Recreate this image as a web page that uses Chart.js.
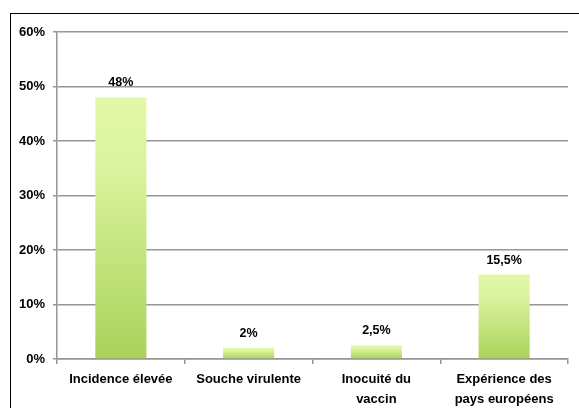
<!DOCTYPE html>
<html>
<head>
<meta charset="utf-8">
<script src="https://cdn.jsdelivr.net/npm/chart.js@4/dist/chart.umd.min.js"></script>
<style>
  html, body { margin: 0; padding: 0; background: #fff; }
  #wrap { position: relative; width: 579px; height: 408px; overflow: hidden; }
  #frame { position: absolute; left: 10px; top: 13px; width: 700px; height: 500px;
           border-left: 1px solid #000; border-top: 1px solid #000; pointer-events: none; }
  canvas { position: absolute; left: 0; top: 0; }
</style>
</head>
<body>
<div id="wrap">
  <canvas id="c" width="579" height="408"></canvas>
  <div id="frame"></div>
</div>
<script>
const categories = [
  "Incidence élevée",
  "Souche virulente",
  ["Inocuité du", "vaccin"],
  ["Expérience des", "pays européens"]
];
const values = [48, 2, 2.5, 15.5];
const yTicks = [0, 10, 20, 30, 40, 50, 60];

const FONT = "'Liberation Sans', Arial, sans-serif";

function barGradient(ctx) {
  const chart = ctx.chart;
  const y = chart.scales && chart.scales.y;
  if (!y || ctx.raw === undefined) return '#c4e47f';
  const top = y.getPixelForValue(ctx.raw);
  const bottom = y.getPixelForValue(0);
  if (!isFinite(top) || !isFinite(bottom) || top === bottom) return '#c4e47f';
  const g = chart.ctx.createLinearGradient(0, top, 0, bottom);
  g.addColorStop(0, '#e2f8a8');
  g.addColorStop(0.25, '#dcf49f');
  g.addColorStop(1, '#a9d25a');
  return g;
}

const valueLabels = {
  id: 'valueLabels',
  afterDatasetsDraw(chart) {
    const ctx = chart.ctx;
    const meta = chart.getDatasetMeta(0);
    ctx.save();
    ctx.font = "bold 12.5px " + FONT;
    ctx.fillStyle = '#000';
    ctx.textAlign = 'center';
    ctx.textBaseline = 'alphabetic';
    meta.data.forEach((bar, i) => {
      const txt = String(values[i]).replace('.', ',') + '%';
      ctx.fillText(txt, bar.x, bar.y - 11);
    });
    ctx.restore();
  }
};

new Chart(document.getElementById('c'), {
  type: 'bar',
  data: {
    labels: categories,
    datasets: [{
      data: values,
      backgroundColor: barGradient,
      borderWidth: 0,
      categoryPercentage: 0.4,
      barPercentage: 1.0
    }]
  },
  options: {
    responsive: false,
    animation: false,
    devicePixelRatio: 1,
    layout: { padding: { left: 0, top: 32, right: 11, bottom: 0 } },
    plugins: { legend: { display: false }, tooltip: { enabled: false } },
    scales: {
      x: {
        offset: true,
        grid: { offset: true, drawOnChartArea: false, color: '#969696', lineWidth: 1.5, tickLength: 5 },
        border: { color: '#969696', width: 1.5 },
        ticks: { color: '#000', font: { family: FONT, size: 13, weight: 'bold', lineHeight: 1.55 }, padding: 5, maxRotation: 0, autoSkip: false },
        afterFit(scale) { scale.height = 49; }
      },
      y: {
        min: 0, max: 60,
        afterBuildTicks(scale) { scale.ticks = yTicks.map(v => ({ value: v })); },
        grid: { color: '#969696', lineWidth: 1.5, tickLength: 4 },
        border: { color: '#969696', width: 1.5 },
        ticks: {
          color: '#000', padding: 8,
          font: { family: FONT, size: 13, weight: 'bold' },
          callback: v => v + '%'
        },
        afterFit(scale) { scale.width = 57; }
      }
    }
  },
  plugins: [valueLabels]
});
</script>
</body>
</html>
